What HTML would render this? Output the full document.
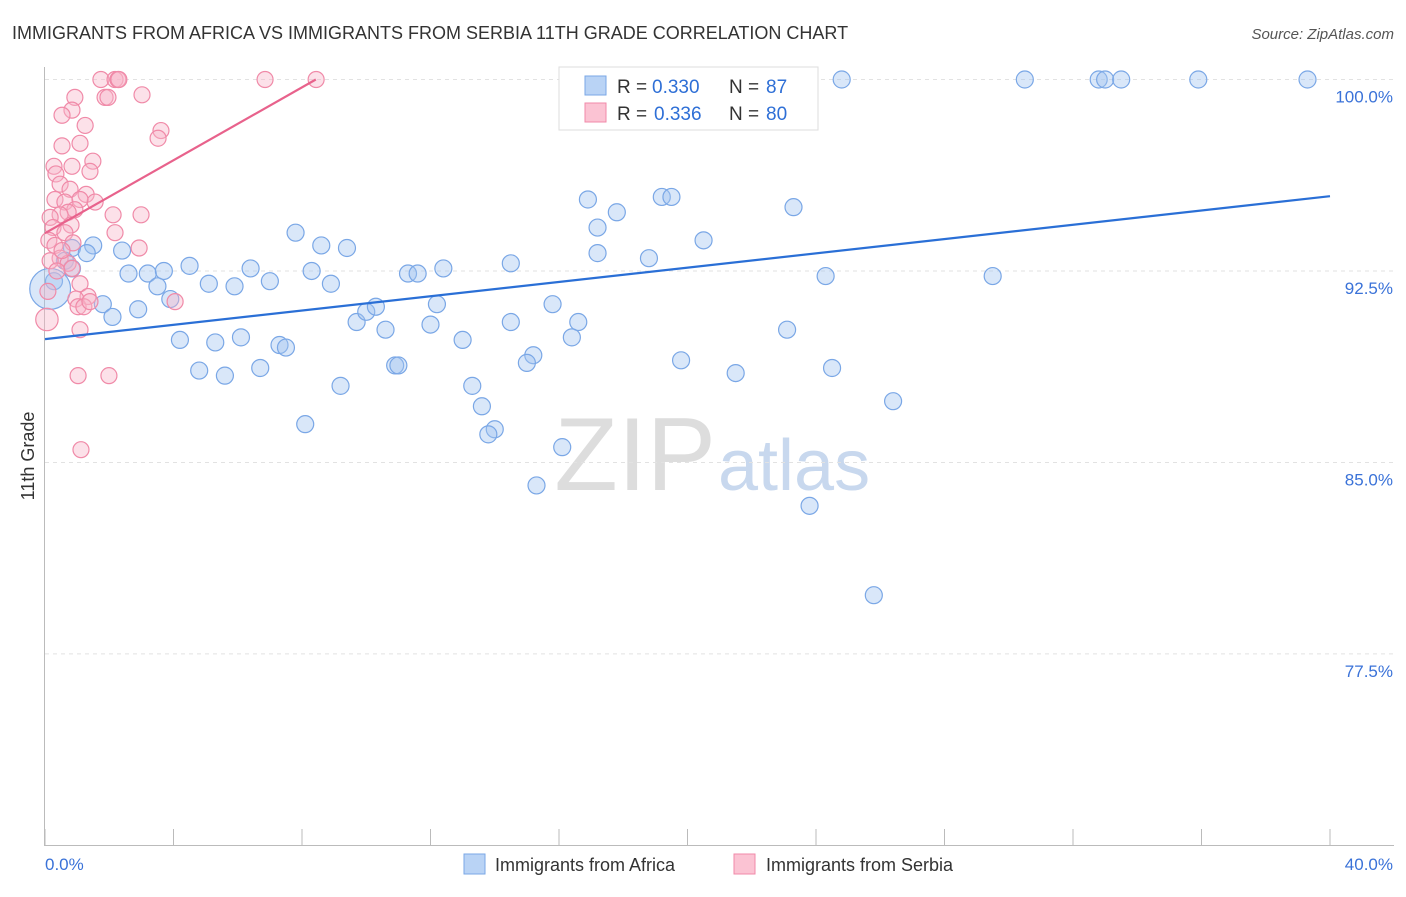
<!DOCTYPE html>
<html><head><meta charset="utf-8"><style>
body{margin:0;background:#fff;font-family:"Liberation Sans",sans-serif}
svg text{font-family:"Liberation Sans",sans-serif}
</style></head><body>
<svg id="chart" width="1406" height="892" xmlns="http://www.w3.org/2000/svg">
<text x="12" y="39" font-size="18" fill="#333">IMMIGRANTS FROM AFRICA VS IMMIGRANTS FROM SERBIA 11TH GRADE CORRELATION CHART</text>
<text x="1394" y="39" font-size="15" fill="#555" text-anchor="end" font-style="italic">Source: ZipAtlas.com</text>
<text x="716" y="490" font-size="104" text-anchor="end" fill="#ddd" font-family="Liberation Serif">ZIP</text>
<text x="718" y="490" font-size="72" fill="#c8d8ee">atlas</text>
<text transform="translate(34,456) rotate(-90)" font-size="18" fill="#333" text-anchor="middle">11th Grade</text>
<g id="grid"></g><g id="axes"></g><g id="pts"></g><g id="lines"></g>
<g>
<rect x="559" y="67" width="259" height="63" fill="#fff" stroke="#ddd"/>
<rect x="585" y="76" width="21" height="19" fill="#b9d3f5" stroke="#7aa7e6"/>
<rect x="585" y="103" width="21" height="19" fill="#fbc3d3" stroke="#f08aa8"/>
<text x="617" y="93" font-size="19" fill="#333">R =</text><text x="652" y="93" font-size="19" fill="#2e6fd6">0.330</text>
<text x="729" y="93" font-size="19" fill="#333">N =</text><text x="766" y="93" font-size="19" fill="#2e6fd6">87</text>
<text x="617" y="120" font-size="19" fill="#333">R =</text><text x="654" y="120" font-size="19" fill="#2e6fd6">0.336</text>
<text x="729" y="120" font-size="19" fill="#333">N =</text><text x="766" y="120" font-size="19" fill="#2e6fd6">80</text>
</g>
<g>
<rect x="464" y="854" width="21" height="20" fill="#b9d3f5" stroke="#7aa7e6"/>
<text x="495" y="871" font-size="18" fill="#333">Immigrants from Africa</text>
<rect x="734" y="854" width="21" height="20" fill="#fbc3d3" stroke="#f08aa8"/>
<text x="766" y="871" font-size="18" fill="#333">Immigrants from Serbia</text>
</g>
</svg>
<script>
const yTicks=[100,92.5,85,77.5];
const yTickLabels=["100.0%","92.5%","85.0%","77.5%"];
const xEndLabels=["0.0%","40.0%"];
const blueX=[20.1,22.1,24.8,30.5,32.8,33.0,33.5,35.9,39.3,16.9,19.2,19.5,17.8,23.3,17.2,20.5,18.8,17.2,14.5,7.8,8.6,9.4,8.3,6.4,7.0,8.9,11.3,11.6,12.4,4.5,2.6,3.2,3.7,3.5,5.1,5.9,3.9,1.8,2.1,2.9,1.5,2.4,0.84,1.3,0.62,0.84,0.28,0.16,24.3,29.5,9.7,10.0,10.3,10.6,12.2,12.0,13.0,14.5,15.8,16.6,16.4,15.2,15.0,10.9,11.0,19.8,23.1,21.5,24.5,26.4,4.2,5.3,6.1,7.3,7.5,4.8,5.6,6.7,9.2,13.3,13.6,14.0,13.8,8.1,16.1,15.3,23.8,25.8,26.2];
const blueY=[100,100,100,100,100,100,100,100,100,95.3,95.4,95.4,94.8,95.0,94.2,93.7,93.0,93.2,92.8,94.0,93.5,93.4,92.5,92.6,92.1,92.0,92.4,92.4,92.6,92.7,92.4,92.4,92.5,91.9,92.0,91.9,91.4,91.2,90.7,91.0,93.5,93.3,93.4,93.2,92.9,92.6,92.1,91.8,92.3,92.3,90.5,90.9,91.1,90.2,91.2,90.4,89.8,90.5,91.2,90.5,89.9,89.2,88.9,88.8,88.8,89.0,90.2,88.5,88.7,87.4,89.8,89.7,89.9,89.6,89.5,88.6,88.4,88.7,88.0,88.0,87.2,86.3,86.1,86.5,85.6,84.1,83.3,79.8];
const blueSize=[1,1,1,1,1,1,1,1,1,1,1,1,1,1,1,1,1,1,1,1,1,1,1,1,1,1,1,1,1,1,1,1,1,1,1,1,1,1,1,1,1,1,1,1,1,1,1,2.4,1,1,1,1,1,1,1,1,1,1,1,1,1,1,1,1,1,1,1,1,1,1,1,1,1,1,1,1,1,1,1,1,1,1,1,1,1,1,1,1];
const pinkX=[1.74,2.18,2.27,2.30,6.85,8.44,0.93,1.87,1.96,3.02,0.84,0.53,1.25,3.61,3.52,1.09,0.53,1.49,0.84,0.28,0.34,1.40,0.47,0.78,1.28,1.56,0.31,0.62,1.09,0.93,0.72,0.47,0.16,0.25,0.81,0.62,2.12,2.99,2.18,0.12,0.31,0.87,2.93,0.47,0.72,0.84,1.09,1.34,0.96,1.03,1.21,4.05,1.40,0.09,0.06,1.09,1.03,1.99,1.12,0.16,0.53,0.37];
const pinkY=[100,100,100,100,100,100,99.3,99.3,99.3,99.4,98.8,98.6,98.2,98.0,97.7,97.5,97.4,96.8,96.6,96.6,96.3,96.4,95.9,95.7,95.5,95.2,95.3,95.2,95.3,94.9,94.8,94.7,94.6,94.2,94.3,94.0,94.7,94.7,94.0,93.7,93.5,93.6,93.4,93.0,92.8,92.6,92.0,91.5,91.4,91.1,91.1,91.3,91.3,91.7,90.6,90.2,88.4,88.4,85.5,92.9,93.3,92.5];
const pinkSize=[1,1,1,1,1,1,1,1,1,1,1,1,1,1,1,1,1,1,1,1,1,1,1,1,1,1,1,1,1,1,1,1,1,1,1,1,1,1,1,1,1,1,1,1,1,1,1,1,1,1,1,1,1,1,1.4,1,1,1,1,1,1,1];
const blueLine=[[0,89.83],[40,95.43]];
const pinkLine=[[0,93.98],[8.43,100]];
const X0=45,X1=1330,XMAX=40;
const sx=v=>X0+(v/XMAX)*(X1-X0);
const sy=v=>79.5+(100-v)*25.53;
const NS="http://www.w3.org/2000/svg";
function mk(t,a,p){const e=document.createElementNS(NS,t);for(const k in a)e.setAttribute(k,a[k]);p.appendChild(e);return e;}
const grid=document.getElementById('grid'),axes=document.getElementById('axes'),pts=document.getElementById('pts'),lines=document.getElementById('lines');
yTicks.forEach((t,i)=>{
 const l=mk('line',{x1:45,x2:1394,y1:sy(t),y2:sy(t),stroke:'#e2e2e2','stroke-dasharray':'4 4'},grid);
 
 
 const tx=mk('text',{x:1393,y:sy(t)+23,'font-size':17,fill:'#3a72d8','text-anchor':'end'},grid);
 tx.textContent=yTickLabels[i];
 
 
});
const ax=mk('line',{x1:44.5,x2:44.5,y1:67,y2:845,stroke:'#bbb'},axes);


const bx=mk('line',{x1:44,x2:1394,y1:845.5,y2:845.5,stroke:'#bbb'},axes);


for(let i=0;i<=10;i++){const t=mk('line',{x1:sx(i*4),x2:sx(i*4),y1:829,y2:845,stroke:'#bbb'},axes);
 
 }
[[0,'start',45],[40,'end',1393]].forEach((d,i)=>{const t=mk('text',{x:d[2],y:870,'font-size':17,fill:'#3a72d8','text-anchor':d[1]},axes);t.textContent=xEndLabels[i];
 
 });
blueX.forEach((v,i)=>{const c=mk('circle',{cx:sx(v),cy:sy(blueY[i]),r:8.5*blueSize[i],fill:'rgba(160,196,240,0.4)',stroke:'#7aa7e6','stroke-width':1.2},pts);
 
 });
pinkX.forEach((v,i)=>{const c=mk('circle',{cx:sx(v),cy:sy(pinkY[i]),r:8*pinkSize[i],fill:'rgba(248,180,200,0.4)',stroke:'#f08aa8','stroke-width':1.2},pts);
 
 });
const bl=mk('line',{x1:sx(blueLine[0][0]),y1:sy(blueLine[0][1]),x2:sx(blueLine[1][0]),y2:sy(blueLine[1][1]),stroke:'#2a6fd6','stroke-width':2.2},lines);


const pl=mk('line',{x1:sx(pinkLine[0][0]),y1:sy(pinkLine[0][1]),x2:sx(pinkLine[1][0]),y2:sy(pinkLine[1][1]),stroke:'#e8628c','stroke-width':2.2},lines);


</script>
</body></html>
